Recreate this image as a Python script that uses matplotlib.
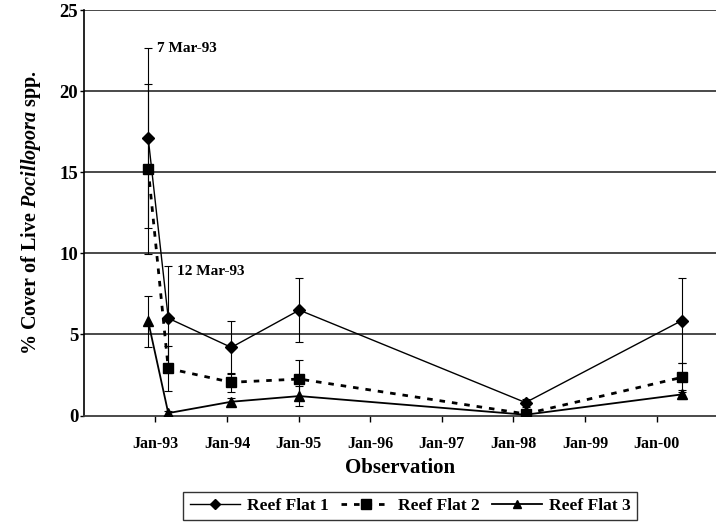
import matplotlib
matplotlib.use("Agg")
import matplotlib.pyplot as plt
from matplotlib.lines import Line2D

# observation times as decimal years
obs_x = [1992.90, 1993.18, 1994.06, 1995.01, 1998.17, 2000.35]

reef1 = [17.1, 6.0, 4.2, 6.5, 0.8, 5.85]
reef1_err = [5.55, 3.2, 1.65, 1.95, 0.25, 2.6]
reef2 = [15.2, 2.9, 2.05, 2.25, 0.1, 2.35]
reef2_err = [5.25, 1.4, 0.6, 1.2, 0.15, 0.9]
reef3 = [5.8, 0.15, 0.85, 1.2, 0.05, 1.3]
reef3_err = [1.6, 0.1, 0.25, 0.6, 0.1, 0.25]

tick_years = [1993, 1994, 1995, 1996, 1997, 1998, 1999, 2000]
tick_labels = ["Jan-93", "Jan-94", "Jan-95", "Jan-96", "Jan-97", "Jan-98", "Jan-99", "Jan-00"]
y_ticks = [0, 5, 10, 15, 20, 25]

plt.rcParams["font.family"] = "Liberation Serif"
plt.rcParams["font.weight"] = "bold"
plt.rcParams["mathtext.fontset"] = "custom"
plt.rcParams["mathtext.rm"] = "Liberation Serif:bold"
plt.rcParams["mathtext.it"] = "Liberation Serif:italic:bold"

fig = plt.figure(figsize=(7.16, 5.28), dpi=100)
ax = fig.add_axes([0.117, 0.213, 0.883, 0.768])

# gridlines
for yv in y_ticks[1:]:
    ax.axhline(yv, color="#3a3a3a", lw=1.3, zorder=1)

err_kw = dict(ecolor="black", elinewidth=0.8, capsize=3, capthick=0.8, zorder=3)

ax.errorbar(obs_x, reef1, yerr=reef1_err, color="black", lw=1.0,
            marker="D", ms=6, **err_kw)
ax.errorbar(obs_x, reef2, yerr=reef2_err, color="black", lw=2.0,
            ls=(0, (2, 2.5)), marker="s", ms=7, **err_kw)
ax.errorbar(obs_x, reef3, yerr=reef3_err, color="black", lw=1.3,
            marker="^", ms=7, **err_kw)

ax.annotate("7 Mar-93", xy=(obs_x[0], reef1[0] + reef1_err[0]),
            xytext=(6, 0), textcoords="offset points", va="center",
            fontsize=11, fontweight="bold")
ax.annotate("12 Mar-93", xy=(obs_x[1], reef1[1] + reef1_err[1]),
            xytext=(6, -3.5), textcoords="offset points", va="center",
            fontsize=11, fontweight="bold")

ax.set_xlim(1992, 2000.83)
ax.set_ylim(0, 25)
ax.set_xticks(tick_years)
ax.set_xticklabels(tick_labels, fontsize=11.5, fontweight="bold")
ax.set_yticks(y_ticks)
ax.set_yticklabels([str(v) for v in y_ticks], fontsize=13.5, fontweight="bold")
ax.tick_params(axis="x", direction="out", length=4, width=1, pad=11)
ax.tick_params(axis="y", direction="out", length=3, width=1, pad=1)

for side in ["top", "right"]:
    ax.spines[side].set_visible(False)
ax.spines["left"].set_linewidth(1.2)
ax.spines["bottom"].set_linewidth(1.3)
ax.spines["bottom"].set_color("#3a3a3a")

ax.set_xlabel("Observation", fontsize=15, fontweight="bold", labelpad=4)
ax.set_ylabel(r"% Cover of Live $Pocillopora$ spp.", fontsize=14.5,
              fontweight="bold", labelpad=12)

handles = [
    Line2D([], [], color="black", lw=1.0, marker="D", ms=5),
    Line2D([], [], color="black", lw=2.0, ls=(0, (2, 2.5)), marker="s", ms=7),
    Line2D([], [], color="black", lw=1.3, marker="^", ms=6),
]
labels = ["Reef Flat 1", "Reef Flat 2", "Reef Flat 3"]
leg = fig.legend(handles, labels, loc="upper center", bbox_to_anchor=(0.573, 0.068),
                 ncol=3, frameon=True, fancybox=False, edgecolor="black",
                 prop={"family": "Liberation Serif", "weight": "bold", "size": 12.5},
                 handlelength=2.9, columnspacing=0.7, handletextpad=0.4,
                 borderaxespad=0, borderpad=0.35)
leg.get_frame().set_linewidth(1.0)

fig.savefig("out.png", dpi=100)
